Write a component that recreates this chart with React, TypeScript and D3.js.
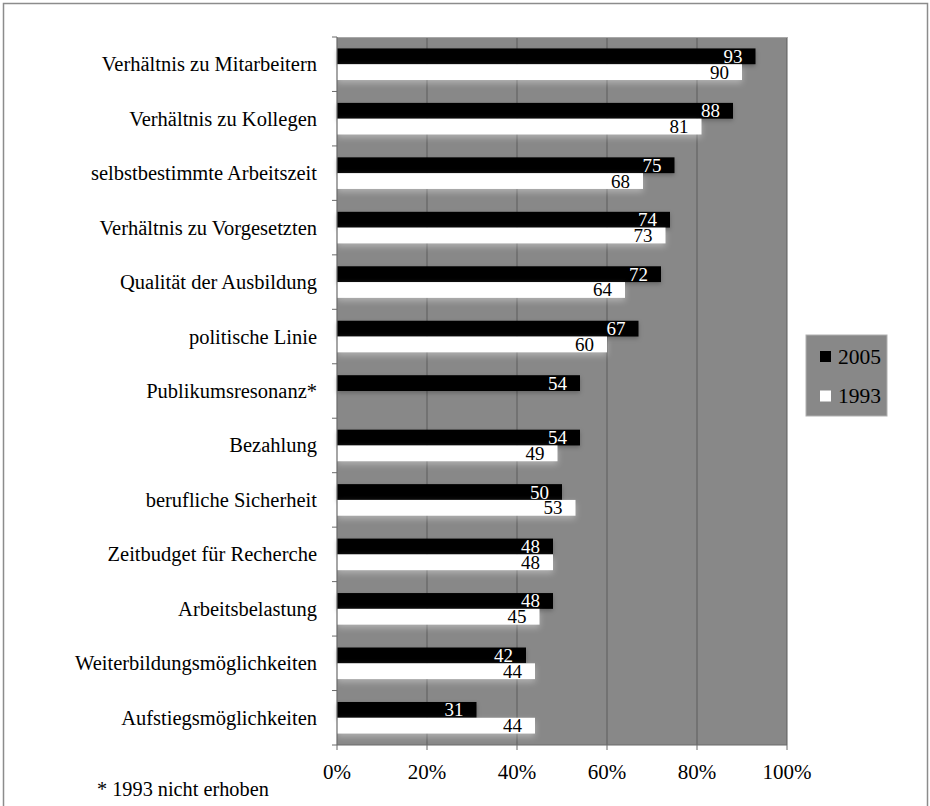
import React from "react";
import * as d3 from "d3";

const categories = [
  "Verhältnis zu Mitarbeitern",
  "Verhältnis zu Kollegen",
  "selbstbestimmte Arbeitszeit",
  "Verhältnis zu Vorgesetzten",
  "Qualität der Ausbildung",
  "politische Linie",
  "Publikumsresonanz*",
  "Bezahlung",
  "berufliche Sicherheit",
  "Zeitbudget für Recherche",
  "Arbeitsbelastung",
  "Weiterbildungsmöglichkeiten",
  "Aufstiegsmöglichkeiten",
];
const values2005: (number | null)[] = [93, 88, 75, 74, 72, 67, 54, 54, 50, 48, 48, 42, 31];
const values1993: (number | null)[] = [90, 81, 68, 73, 64, 60, null, 49, 53, 48, 45, 44, 44];
const xTicks = [0, 20, 40, 60, 80, 100];
const seriesNames = ["2005", "1993"];
const footnote = "* 1993 nicht erhoben";

const W = 930;
const H = 806;
const FONT = "'Liberation Serif', 'Times New Roman', serif";

export default function App() {
  const left = 337;
  const right = 787;
  const top = 37;
  const bottom = 745;
  const x = d3.scaleLinear().domain([0, 100]).range([left, right]);
  const y = d3.scaleBand<string>().domain(categories).range([top, bottom]);
  const bw = y.bandwidth();
  const barH = bw * 0.29;

  const series = [
    { name: seriesNames[0], values: values2005, fill: "#000", text: "#fff", off: -barH },
    { name: seriesNames[1], values: values1993, fill: "#fff", text: "#000", off: 0 },
  ];

  return (
    <div style={{ position: "fixed", left: 0, top: 0 }}>
      <svg width={W} height={H} style={{ display: "block" }}>
        <defs>
          <filter id="glowW" x="-5%" y="-50%" width="110%" height="250%">
            <feDropShadow dx="0" dy="3" stdDeviation="3" floodColor="#ffffff" floodOpacity="0.35" />
          </filter>
          <filter id="glowB" x="-5%" y="-50%" width="110%" height="250%">
            <feDropShadow dx="0" dy="2" stdDeviation="2" floodColor="#000" floodOpacity="0.25" />
          </filter>
        </defs>
        <rect x={0} y={0} width={W} height={H} fill="#fff" />
        <rect x={3.5} y={3.5} width={924} height={H + 10} fill="none" stroke="#8c8c8c" strokeWidth={1.5} />

        {/* plot background */}
        <rect x={left} y={top} width={right - left} height={bottom - top} fill="#888888" />
        {xTicks.slice(1).map((t) => (
          <line key={t} x1={x(t)} x2={x(t)} y1={top} y2={bottom} stroke="#5c5c5c" strokeWidth={1} />
        ))}
        <line x1={left} x2={right} y1={top + 0.5} y2={top + 0.5} stroke="#a8a8a8" strokeWidth={1} />

        {/* bars */}
        {series.map((s, si) =>
          categories.map((c, i) => {
            const v = s.values[i];
            if (v == null) return null;
            const yc = (y(c) as number) + bw / 2 + s.off;
            return (
              <g key={`${si}-${i}`}>
                <rect
                  x={x(0)}
                  y={yc}
                  width={x(v) - x(0)}
                  height={barH}
                  fill={s.fill}
                  filter={si === 1 ? "url(#glowW)" : "url(#glowB)"}
                />
                <text
                  x={x(v) - 13}
                  y={yc + barH / 2 + 6.5}
                  textAnchor="end"
                  fontFamily={FONT}
                  fontSize={19}
                  fill={s.text}
                >
                  {v}
                </text>
              </g>
            );
          })
        )}

        {/* axes */}
        <line x1={left} x2={left} y1={top} y2={bottom} stroke="#6a6a6a" strokeWidth={1.2} />
        <line x1={left} x2={right} y1={bottom} y2={bottom} stroke="#6a6a6a" strokeWidth={1.2} />
        {categories.map((c, i) => (
          <line key={`yt${i}`} x1={left - 5} x2={left} y1={y(c) as number} y2={y(c) as number} stroke="#6a6a6a" />
        ))}
        <line x1={left - 5} x2={left} y1={bottom} y2={bottom} stroke="#6a6a6a" />
        {xTicks.map((t) => (
          <g key={`xt${t}`}>
            <line x1={x(t)} x2={x(t)} y1={bottom} y2={bottom + 5} stroke="#6a6a6a" />
            <text x={x(t)} y={779} textAnchor="middle" fontFamily={FONT} fontSize={21} fill="#000">
              {`${t}%`}
            </text>
          </g>
        ))}

        {/* category labels */}
        {categories.map((c) => (
          <text
            key={c}
            x={317}
            y={(y(c) as number) + bw / 2 + 7}
            textAnchor="end"
            fontFamily={FONT}
            fontSize={20.5}
            fill="#000"
          >
            {c}
          </text>
        ))}

        {/* legend */}
        <rect x={806} y={335} width={81} height={81} fill="#888888" stroke="#b0b0b0" strokeWidth={1} />
        {series.map((s, i) => (
          <g key={`lg${i}`}>
            <rect x={820} y={351 + i * 39.5} width={11} height={11} fill={s.fill} />
            <text x={838} y={363.5 + i * 39.5} fontFamily={FONT} fontSize={21.5} fill="#000">
              {s.name}
            </text>
          </g>
        ))}

        {/* footnote */}
        <text x={97} y={796} fontFamily={FONT} fontSize={20.3} fill="#000">
          {footnote}
        </text>
      </svg>
    </div>
  );
}
